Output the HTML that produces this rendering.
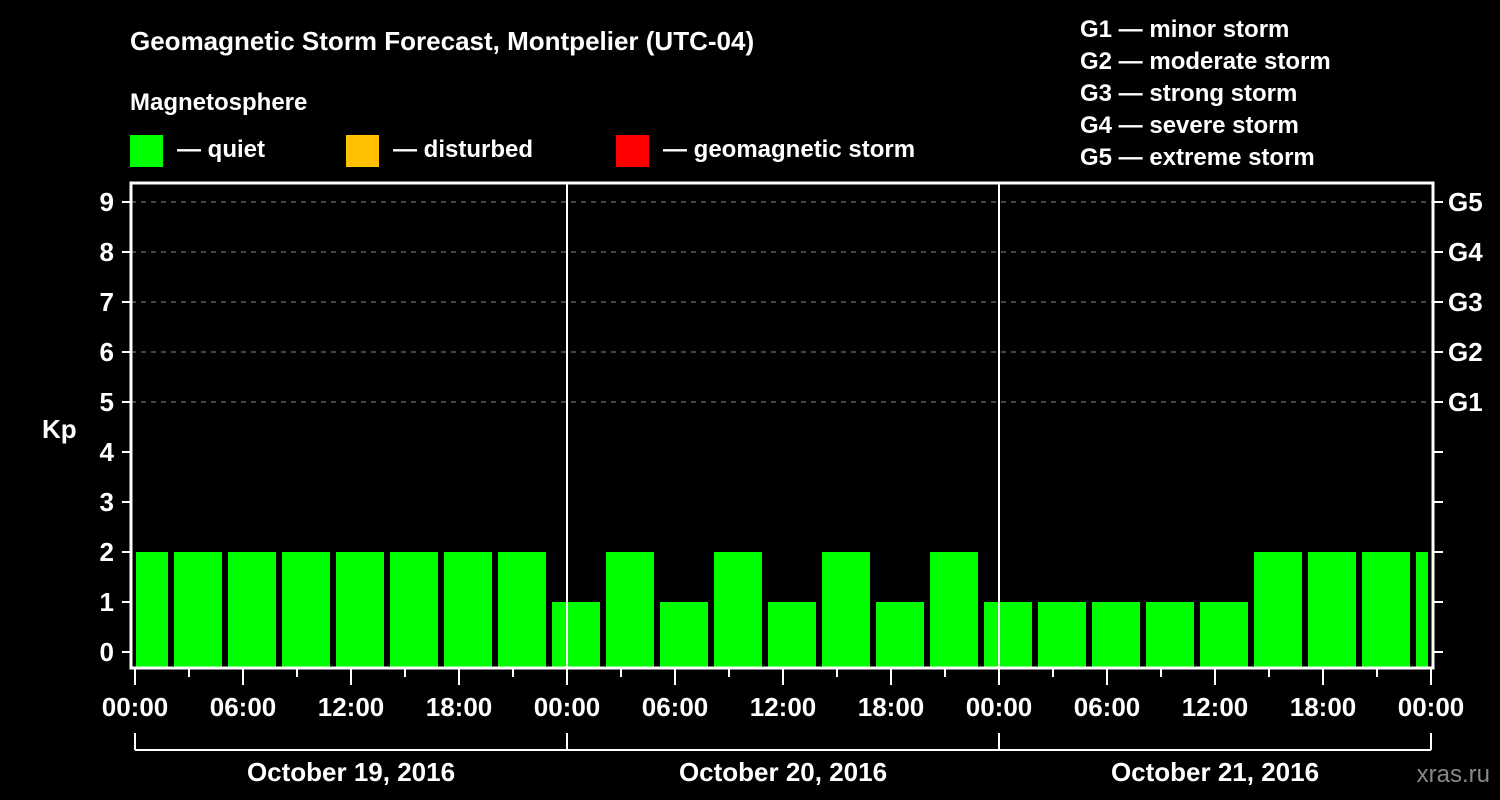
<!DOCTYPE html>
<html><head><meta charset="utf-8"><style>
body{margin:0;background:#000;}
svg{display:block;font-family:"Liberation Sans",sans-serif;font-weight:bold;}
</style></head><body>
<svg id="c" width="1500" height="800" viewBox="0 0 1500 800">
<rect width="1500" height="800" fill="#000"/>
<text x="130" y="50" fill="#fff" font-size="26">Geomagnetic Storm Forecast, Montpelier (UTC-04)</text>
<text x="130" y="110" fill="#fff" font-size="24">Magnetosphere</text>
<g><rect x="130" y="135" width="33" height="32" fill="#00ff00"/><text x="177" y="157" fill="#fff" font-size="24">— quiet</text></g>
<g><rect x="346" y="135" width="33" height="32" fill="#ffc000"/><text x="393" y="157" fill="#fff" font-size="24">— disturbed</text></g>
<g><rect x="616" y="135" width="33" height="32" fill="#ff0000"/><text x="663" y="157" fill="#fff" font-size="24">— geomagnetic storm</text></g>
<g fill="#fff" font-size="24">
<text x="1080" y="37">G1 — minor storm</text>
<text x="1080" y="69">G2 — moderate storm</text>
<text x="1080" y="101">G3 — strong storm</text>
<text x="1080" y="133">G4 — severe storm</text>
<text x="1080" y="165">G5 — extreme storm</text>
</g>
<text x="42" y="438" fill="#fff" font-size="26">Kp</text>
<text x="1490" y="782" fill="#888" font-size="24" text-anchor="end" font-weight="normal">xras.ru</text>
<g id="plot"></g>
</svg>
<script>
const kpValues=[2,2,2,2,2,2,2,2,1,2,1,2,1,2,1,2,1,1,1,1,1,2,2,2,2];
const yTicks=[0,1,2,3,4,5,6,7,8,9];
const gLabels=["G1","G2","G3","G4","G5"];
const xTickLabels=["00:00","06:00","12:00","18:00","00:00","06:00","12:00","18:00","00:00","06:00","12:00","18:00","00:00"];
const dayLabels=["October 19, 2016","October 20, 2016","October 21, 2016"];

const NS="http://www.w3.org/2000/svg";
const g=document.getElementById('plot');
const L=131,R=1433,T=183,B=668;
const x0=135,pxPerHour=18,barStartOffsetH=-0.833;
const y=v=>652-50*v;
const xh=h=>x0+h*pxPerHour;
function mk(tag,attrs,parent){const e=document.createElementNS(NS,tag);for(const k in attrs)e.setAttribute(k,attrs[k]);(parent||g).appendChild(e);return e;}

// grid
for(let v=5;v<=9;v++){const l=mk('line',{x1:L,x2:R,y1:y(v),y2:y(v),stroke:'#888','stroke-dasharray':'5,5','stroke-width':1});

}
// bars
const clip=mk('clipPath',{id:'pc'});mk('rect',{x:L+5,y:T,width:R-L-5-5,height:B-T},clip);
const bg=mk('g',{'clip-path':'url(#pc)'});
kpValues.forEach((v,i)=>{
 const xs=xh(i*3+barStartOffsetH);
 const col=v>=5?'#ff0000':(v>=4?'#ffc000':'#00ff00');
 const r=mk('rect',{x:xs,y:y(v),width:48,height:B-1-y(v),fill:col},bg);
 
 
});
// day separators
for(let d=1;d<=2;d++){const l=mk('line',{x1:xh(24*d),x2:xh(24*d),y1:T,y2:B,stroke:'#fff','stroke-width':2});

}
// frame
const f=mk('rect',{x:L,y:T,width:R-L,height:B-T,fill:'none',stroke:'#fff','stroke-width':3});


// y ticks
yTicks.forEach(v=>{
 mk('line',{x1:L-9,x2:L,y1:y(v),y2:y(v),stroke:'#fff','stroke-width':2});
 mk('line',{x1:R,x2:R+10,y1:y(v),y2:y(v),stroke:'#fff','stroke-width':2});
 const t=mk('text',{x:L-17,y:y(v)+9,fill:'#fff','font-size':26,'text-anchor':'end'});t.textContent=v;
 
 
});
gLabels.forEach((s,i)=>{const t=mk('text',{x:R+15,y:y(5+i)+9,fill:'#fff','font-size':26});t.textContent=s;
 
 });
// x ticks
for(let h=0;h<=72;h+=3){const major=h%6===0;mk('line',{x1:xh(h),x2:xh(h),y1:B,y2:B+(major?17:9),stroke:'#fff','stroke-width':2});}
xTickLabels.forEach((s,i)=>{const t=mk('text',{x:xh(i*6),y:716,fill:'#fff','font-size':26,'text-anchor':'middle'});t.textContent=s;
 
 });
// day bracket
mk('line',{x1:xh(0),x2:xh(72),y1:750,y2:750,stroke:'#fff','stroke-width':2});
for(let d=0;d<=3;d++)mk('line',{x1:xh(24*d),x2:xh(24*d),y1:733,y2:750,stroke:'#fff','stroke-width':2});
dayLabels.forEach((s,i)=>{const t=mk('text',{x:xh(24*i+12),y:781,fill:'#fff','font-size':26,'text-anchor':'middle'});t.textContent=s;
 
 });
</script>
</body></html>
